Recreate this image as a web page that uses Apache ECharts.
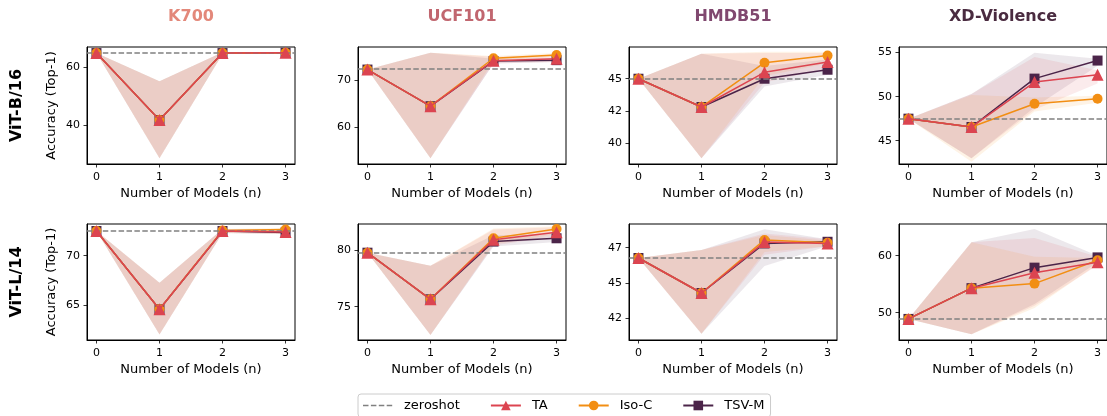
<!DOCTYPE html>
<html>
<head>
<meta charset="utf-8">
<script src="https://cdn.jsdelivr.net/npm/echarts@6/dist/echarts.min.js"></script>
<style>
html,body{margin:0;padding:0;background:#fff;}
#chart{width:1107px;height:416px;}
</style>
</head>
<body>
<div id="chart"></div>
<script>
// ---------------- data ----------------
const nModels = [0, 1, 2, 3];
const panelTitles = ['K700', 'UCF101', 'HMDB51', 'XD-Violence'];
const rowLabels = ['ViT-B/16', 'ViT-L/14'];
// panels ordered: row 0 (ViT-B/16) cols 0..3, then row 1 (ViT-L/14) cols 0..3
const zeroshot = [64.9, 72.4, 45.0, 47.5, 72.5, 79.76, 46.77, 48.9];

const taValues = [
  [64.9, 41.8, 64.9, 65.0], [72.3, 64.5, 74.2, 74.6], [45.0, 42.8, 45.5, 46.3], [47.5, 46.55, 51.66, 52.5],
  [72.5, 64.56, 72.5, 72.4], [79.76, 75.65, 80.9, 81.56], [46.77, 44.29, 47.9, 47.8], [48.9, 54.3, 57.0, 58.84]
];
const isoValues = [
  [64.9, 41.8, 64.9, 65.0], [72.3, 64.5, 74.7, 75.4], [45.0, 42.8, 46.25, 46.8], [47.5, 46.55, 49.2, 49.77],
  [72.5, 64.56, 72.55, 72.65], [79.76, 75.65, 81.03, 81.85], [46.77, 44.29, 48.05, 47.85], [48.9, 54.3, 55.1, 59.2]
];
const tsvValues = [
  [64.9, 41.8, 64.9, 65.0], [72.3, 64.5, 74.1, 74.3], [45.0, 42.8, 45.0, 45.7], [47.5, 46.55, 52.05, 54.1],
  [72.5, 64.56, 72.5, 72.35], [79.76, 75.65, 80.74, 81.03], [46.77, 44.29, 47.8, 47.92], [48.9, 54.3, 57.9, 59.7]
];

const taLow = [
  [64.9, 28.6, 64.6, 64.8], [72.3, 53.4, 73.6, 73.9], [45.0, 38.8, 44.7, 45.8], [47.5, 43.0, 48.5, 51.5],
  [72.5, 62.0, 72.3, 72.2], [79.76, 72.5, 80.4, 81.2], [46.77, 41.4, 47.0, 47.6], [48.9, 46.2, 51.2, 58.3]
];
const taHigh = [
  [64.9, 55.2, 65.2, 65.2], [72.3, 75.9, 75.0, 75.2], [45.0, 46.95, 47.0, 47.0], [47.5, 50.3, 54.5, 53.0],
  [72.5, 67.26, 72.7, 72.7], [79.76, 78.6, 81.8, 82.0], [46.77, 47.34, 48.5, 48.1], [48.9, 62.35, 63.1, 59.8]
];
const isoLow = [
  [64.9, 28.6, 64.6, 64.8], [72.3, 53.4, 74.2, 75.0], [45.0, 38.8, 45.2, 46.2], [47.5, 42.6, 48.3, 49.3],
  [72.5, 62.0, 72.3, 72.2], [79.76, 72.5, 80.5, 81.4], [46.77, 41.4, 47.2, 47.6], [48.9, 46.2, 50.8, 58.5]
];
const isoHigh = [
  [64.9, 55.2, 65.2, 65.2], [72.3, 75.9, 75.2, 75.8], [45.0, 46.95, 47.1, 47.1], [47.5, 50.2, 49.9, 50.1],
  [72.5, 67.26, 72.7, 72.8], [79.76, 78.6, 81.9, 82.1], [46.77, 47.34, 48.4, 48.0], [48.9, 62.35, 59.8, 59.6]
];
const tsvLow = [
  [64.9, 28.6, 64.6, 64.8], [72.3, 53.4, 73.6, 73.9], [45.0, 38.8, 44.4, 45.3], [47.5, 43.0, 48.8, 53.5],
  [72.5, 62.0, 72.3, 72.2], [79.76, 72.5, 80.3, 80.7], [46.77, 41.4, 46.2, 47.6], [48.9, 46.2, 51.5, 58.8]
];
const tsvHigh = [
  [64.9, 55.2, 65.2, 65.2], [72.3, 75.9, 74.6, 74.7], [45.0, 46.95, 46.0, 46.5], [47.5, 50.3, 55.0, 54.3],
  [72.5, 67.26, 72.7, 72.7], [79.76, 78.6, 81.3, 81.4], [46.77, 47.34, 48.8, 48.1], [48.9, 62.35, 64.7, 60.0]
];

// axis limits and ticks
const xRange = [-0.15, 3.15];
const yRanges = [
  [26.6, 67.0], [52.2, 77.1], [38.36, 47.47], [42.35, 55.64],
  [61.45, 73.21], [72.06, 82.29], [40.96, 49.18], [45.2, 65.56]
];
const yTicks = [
  [40, 60], [60, 70], [40, 42.5, 45], [45, 50, 55],
  [65, 70], [75, 80], [42.5, 45, 47.5], [50, 60]
];

// ---------------- layout / style ----------------
const FONT = 'DejaVu Sans';
const colLeft = [87, 358, 629, 899];
const colWidth = 208;
const rowTop = [47, 224];
const rowHeight = [117, 116];
const titleColors = ['#e3887a', '#c1666f', '#80486f', '#4a2b40'];
const methods = [
  { name: 'TSV-M', vals: tsvValues, lo: tsvLow, hi: tsvHigh, color: '#4b2449', symbol: 'rect', size: 10, z: 3 },
  { name: 'Iso-C', vals: isoValues, lo: isoLow, hi: isoHigh, color: '#f28e13', symbol: 'circle', size: 10, z: 4 },
  { name: 'TA', vals: taValues, lo: taLow, hi: taHigh, color: '#dc4450', symbol: 'triangle', size: 12, z: 5 }
];
// dashed-line legend icon (bounding box 30 x 12, dashes in the middle)
const dashIcon = 'path://M0,0L0.01,0L0.01,0.01Z M29.99,12L30,12L30,11.99Z ' +
  'M0,5.25H5.5V6.75H0Z M7.9,5.25H13.4V6.75H7.9Z M15.8,5.25H21.3V6.75H15.8Z M23.7,5.25H29.2V6.75H23.7Z';

function bandRenderer(color) {
  return function (params, api) {
    if (params.dataIndexInside !== 0) return null;
    const n = params.dataInsideLength;
    const top = [], bottom = [];
    for (let i = 0; i < n; i++) {
      top.push(api.coord([api.value(0, i), api.value(2, i)]));
      bottom.push(api.coord([api.value(0, i), api.value(1, i)]));
    }
    const pts = top.concat(bottom.reverse());
    return {
      type: 'polygon',
      shape: { points: pts },
      style: { fill: color, opacity: 0.105 },
      silent: true
    };
  };
}

const grids = [], xAxes = [], yAxes = [], series = [], graphics = [];
for (let r = 0; r < 2; r++) {
  for (let c = 0; c < 4; c++) {
    const p = r * 4 + c;
    grids.push({
      left: colLeft[c], top: rowTop[r], width: colWidth, height: rowHeight[r],
      show: true, borderColor: '#000', borderWidth: 1, backgroundColor: 'transparent'
    });
    xAxes.push({
      gridIndex: p, type: 'value', min: xRange[0], max: xRange[1],
      name: 'Number of Models (n)', nameLocation: 'middle', nameGap: 23,
      nameTextStyle: { fontFamily: FONT, fontSize: 13, color: '#000' },
      axisLine: { show: true, onZero: false, lineStyle: { color: '#000', width: 1 } },
      axisTick: { show: true, inside: false, length: 3.5, customValues: nModels, lineStyle: { color: '#000', width: 0.8 } },
      axisLabel: { show: true, customValues: nModels, margin: 8, fontFamily: FONT, fontSize: 11, color: '#000' },
      splitLine: { show: false }
    });
    yAxes.push({
      gridIndex: p, type: 'value', min: yRanges[p][0], max: yRanges[p][1],
      name: c === 0 ? 'Accuracy (Top-1)' : '', nameLocation: 'middle', nameGap: 29,
      nameTextStyle: { fontFamily: FONT, fontSize: 13, color: '#000' },
      axisLine: { show: true, onZero: false, lineStyle: { color: '#000', width: 1 } },
      axisTick: { show: true, inside: false, length: 3.5, customValues: yTicks[p], lineStyle: { color: '#000', width: 0.8 } },
      axisLabel: {
        show: true, customValues: yTicks[p], margin: 7, fontFamily: FONT, fontSize: 11, color: '#000',
        formatter: v => String(Math.floor(v))
      },
      splitLine: { show: false }
    });
    // bands (min-max range for each method)
    methods.forEach(m => {
      series.push({
        type: 'custom', name: m.name + ' range', xAxisIndex: p, yAxisIndex: p, z: 1,
        renderItem: bandRenderer(m.color),
        encode: { x: 0, y: [1, 2] },
        data: nModels.map((n, i) => [n, m.lo[p][i], m.hi[p][i]])
      });
    });
    // zeroshot
    series.push({
      type: 'line', name: 'zeroshot', xAxisIndex: p, yAxisIndex: p, z: 2,
      data: [], symbol: 'none',
      itemStyle: { color: '#808080' },
      lineStyle: { color: '#808080', width: 1.5, type: [5.5, 2.4] },
      markLine: {
        silent: true, symbol: ['none', 'none'], label: { show: false },
        lineStyle: { color: '#808080', width: 1.5, type: [5.5, 2.4] },
        emphasis: { disabled: true },
        data: [{ yAxis: zeroshot[p] }]
      }
    });
    // method lines
    methods.forEach(m => {
      series.push({
        type: 'line', name: m.name, xAxisIndex: p, yAxisIndex: p, z: m.z,
        data: nModels.map((n, i) => [n, m.vals[p][i]]),
        symbol: m.symbol, symbolSize: m.size, showSymbol: true,
        itemStyle: { color: m.color, opacity: 1 },
        lineStyle: { color: m.color, width: 1.5 },
        emphasis: { disabled: true }
      });
    });
  }
}

// column titles
for (let c = 0; c < 4; c++) {
  graphics.push({
    type: 'text', x: colLeft[c] + colWidth / 2, y: 17,
    style: { text: panelTitles[c], font: 'bold 16px ' + FONT, fill: titleColors[c], textAlign: 'center', textVerticalAlign: 'middle' }
  });
}
// row labels
for (let r = 0; r < 2; r++) {
  graphics.push({
    type: 'text', x: 17, y: rowTop[r] + rowHeight[r] / 2, rotation: Math.PI / 2,
    style: { text: rowLabels[r], font: 'bold 16px ' + FONT, fill: '#000', textAlign: 'center', textVerticalAlign: 'middle' }
  });
}

const chart = echarts.init(document.getElementById('chart'), null, { renderer: 'canvas' });
chart.setOption({
  animation: false,
  backgroundColor: '#fff',
  grid: grids,
  xAxis: xAxes,
  yAxis: yAxes,
  legend: {
    data: [{ name: 'zeroshot', icon: dashIcon, itemStyle: { color: '#808080' } }, 'TA', 'Iso-C', 'TSV-M'],
    left: 358, top: 394,
    itemWidth: 30, itemHeight: 12, itemGap: 30,
    padding: [5, 6, 5, 5],
    borderColor: '#cccccc', borderWidth: 1, borderRadius: 3,
    textStyle: { fontFamily: FONT, fontSize: 13, color: '#000', padding: [0, 0, 0, 6] },
    selectedMode: false
  },
  graphic: graphics,
  series: series
});
</script>
</body>
</html>
